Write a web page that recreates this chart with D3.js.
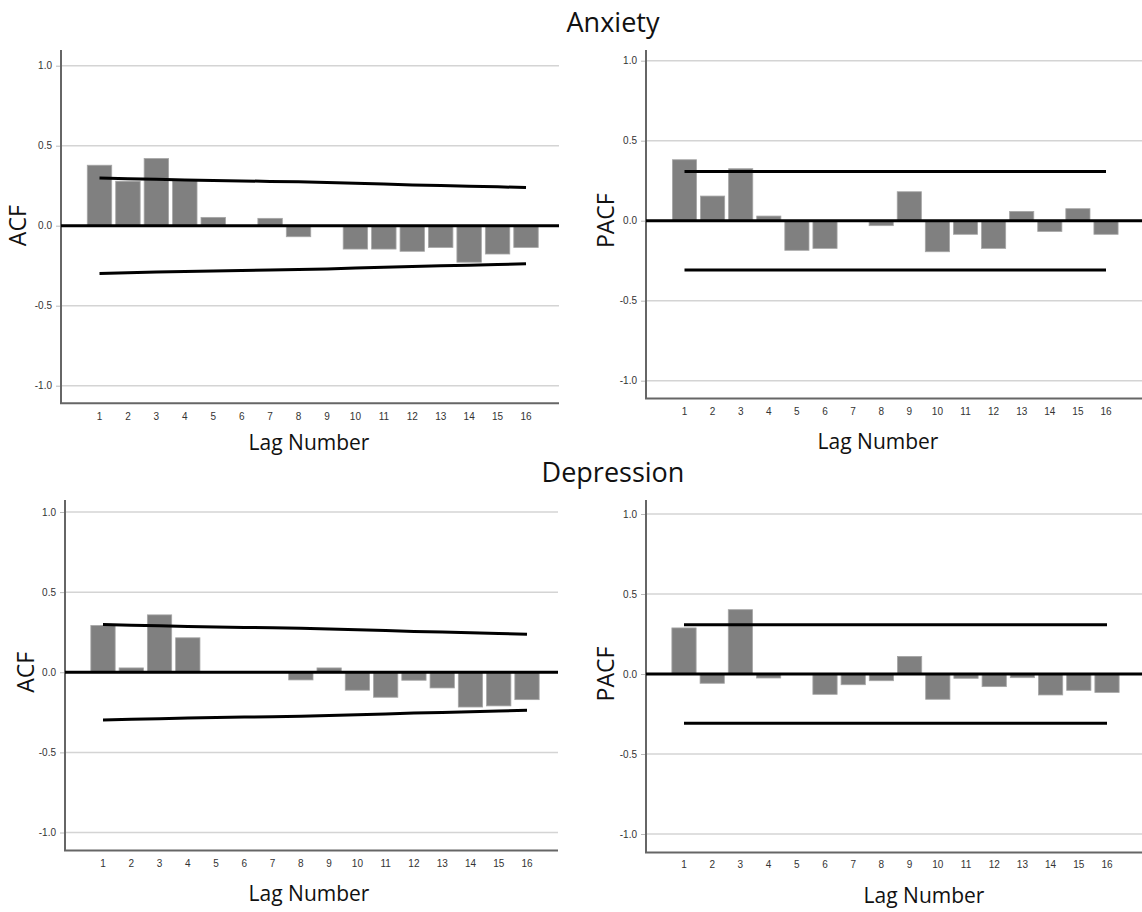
<!DOCTYPE html>
<html>
<head>
<meta charset="utf-8">
<script src="https://cdn.jsdelivr.net/npm/d3@7"></script>
<style>
    body { margin: 0; background: #fff; }
    svg { display: block; }
    .tick-label { font-family: 'Liberation Sans', Arial, sans-serif; font-size: 10px; fill: #333; }
    .axis-title { font-family: 'Open Sans', 'Noto Sans', sans-serif; fill: #111; }
</style>
</head>
<body>
<svg id="chart" width="1142" height="912"></svg>
<script>
// Lags shown on every panel
const lags = d3.range(1, 17);
const lagLabels = lags.map(String);
const yTickValues = [1.0, 0.5, 0.0, -0.5, -1.0];
const yTickLabels = ['1.0', '0.5', '0.0', '-0.5', '-1.0'];

// Anxiety
const anxietyAcf = [0.378, 0.278, 0.420, 0.280, 0.052, 0.0, 0.046, -0.069, 0.0, -0.146, -0.146, -0.160, -0.136, -0.228, -0.177, -0.136];
const anxietyAcfLimit = [0.298, 0.294, 0.290, 0.286, 0.283, 0.280, 0.277, 0.274, 0.270, 0.265, 0.260, 0.255, 0.251, 0.247, 0.243, 0.238];
const anxietyPacf = [0.381, 0.154, 0.325, 0.029, -0.185, -0.173, 0.0, -0.031, 0.181, -0.194, -0.085, -0.173, 0.058, -0.067, 0.075, -0.085];
const anxietyPacfLimit = [0.308, 0.308, 0.308, 0.308, 0.308, 0.308, 0.308, 0.308, 0.308, 0.308, 0.308, 0.308, 0.308, 0.308, 0.308, 0.308];

// Depression
const depressionAcf = [0.292, 0.027, 0.358, 0.215, 0.0, 0.003, 0.0, -0.048, 0.027, -0.112, -0.156, -0.050, -0.098, -0.217, -0.210, -0.171];
const depressionAcfLimit = [0.298, 0.294, 0.290, 0.286, 0.283, 0.280, 0.277, 0.274, 0.270, 0.265, 0.260, 0.255, 0.251, 0.247, 0.242, 0.237];
const depressionPacf = [0.288, -0.058, 0.402, -0.025, 0.0, -0.127, -0.067, -0.042, 0.110, -0.158, -0.027, -0.079, -0.023, -0.131, -0.102, -0.115];
const depressionPacfLimit = [0.308, 0.308, 0.308, 0.308, 0.308, 0.308, 0.308, 0.308, 0.308, 0.308, 0.308, 0.308, 0.308, 0.308, 0.308, 0.308];

const svg = d3.select('#chart');

// group titles
svg.append('text').attr('class', 'axis-title')
    .attr('x', 613).attr('y', 32).attr('text-anchor', 'middle')
    .style('font-size', '27px').text('Anxiety');
svg.append('text').attr('class', 'axis-title')
    .attr('x', 613).attr('y', 482).attr('text-anchor', 'middle')
    .style('font-size', '27px').text('Depression');

// panel frames (pixel layout of each plot)
const panels = [
    { values: anxietyAcf, limit: anxietyAcfLimit, yTitle: 'ACF',
      axisX: 61, right: 559, top: 50, yPos: 65.7, yNeg: 385.7, bottom: 403.3,
      lag1: 99.5, lag16: 526, tickY: 416, yTitleX: 18, xTitleX: 309, xTitleY: 443 },
    { values: anxietyPacf, limit: anxietyPacfLimit, yTitle: 'PACF',
      axisX: 646, right: 1142, top: 50, yPos: 60.7, yNeg: 380.7, bottom: 398.5,
      lag1: 684.5, lag16: 1106, tickY: 411, yTitleX: 606, xTitleX: 878, xTitleY: 442 },
    { values: depressionAcf, limit: depressionAcfLimit, yTitle: 'ACF',
      axisX: 65, right: 558, top: 500, yPos: 512, yNeg: 832.5, bottom: 850.5,
      lag1: 103, lag16: 527, tickY: 863, yTitleX: 26, xTitleX: 309, xTitleY: 894 },
    { values: depressionPacf, limit: depressionPacfLimit, yTitle: 'PACF',
      axisX: 646, right: 1142, top: 500, yPos: 514, yNeg: 834, bottom: 852.5,
      lag1: 684, lag16: 1107, tickY: 864, yTitleX: 606, xTitleX: 924, xTitleY: 896 }
];

panels.forEach(drawPanel);

function drawPanel(p) {
    const g = svg.append('g');
    const step = (p.lag16 - p.lag1) / 15;

    const x = d3.scaleBand()
        .domain(lags)
        .range([p.lag1 - step / 2, p.lag16 + step / 2])
        .paddingInner(0.14)
        .paddingOuter(0.07);
    const y = d3.scaleLinear().domain([-1, 1]).range([p.yNeg, p.yPos]);

    // gridlines
    g.selectAll('.grid')
        .data(yTickValues)
        .join('line')
        .attr('x1', p.axisX).attr('x2', p.right)
        .attr('y1', function (d) { return y(d); })
        .attr('y2', function (d) { return y(d); })
        .attr('stroke', '#d4d4d4')
        .attr('stroke-width', 1.5);

    // y axis ticks + labels
    const yAxis = d3.axisLeft(y)
        .tickValues(yTickValues)
        .tickSize(5)
        .tickPadding(4)
        .tickFormat(function (d, i) { return yTickLabels[i]; });
    const ya = g.append('g')
        .attr('transform', 'translate(' + p.axisX + ',0)')
        .call(yAxis);
    ya.select('.domain').remove();
    ya.selectAll('.tick line').attr('stroke', '#bbb');
    ya.selectAll('.tick text').attr('class', 'tick-label').attr('fill', null);

    // bars
    g.selectAll('.bar')
        .data(p.values.map(function (v, i) { return { lag: lags[i], v: v }; }))
        .join('rect')
        .attr('x', function (d) { return x(d.lag); })
        .attr('width', x.bandwidth())
        .attr('y', function (d) { return y(Math.max(0, d.v)); })
        .attr('height', function (d) { return Math.abs(y(d.v) - y(0)); })
        .attr('fill', '#808080')
        .attr('stroke', '#a6a6a6')
        .attr('stroke-width', 0.8);

    // x labels (no tick marks)
    const xAxis = d3.axisBottom(x)
        .tickSize(0)
        .tickPadding(0)
        .tickFormat(function (d, i) { return lagLabels[i]; });
    const xa = g.append('g')
        .attr('transform', 'translate(0,' + (p.tickY + 4) + ')')
        .call(xAxis);
    xa.select('.domain').remove();
    xa.selectAll('.tick text').attr('class', 'tick-label').attr('fill', null).attr('dy', 0);

    // axes lines
    g.append('line')
        .attr('x1', p.axisX).attr('x2', p.axisX)
        .attr('y1', p.top).attr('y2', p.bottom)
        .attr('stroke', '#666').attr('stroke-width', 2);
    g.append('line')
        .attr('x1', p.axisX - 1).attr('x2', p.right)
        .attr('y1', p.bottom).attr('y2', p.bottom)
        .attr('stroke', '#666').attr('stroke-width', 2);

    // zero line
    g.append('line')
        .attr('x1', p.axisX).attr('x2', p.right)
        .attr('y1', y(0)).attr('y2', y(0))
        .attr('stroke', '#000').attr('stroke-width', 3);

    // confidence limits
    const centre = function (d) { return x(d.lag) + x.bandwidth() / 2; };
    const upper = p.limit.map(function (v, i) { return { lag: lags[i], v: v }; });
    const lower = p.limit.map(function (v, i) { return { lag: lags[i], v: -v }; });
    const line = d3.line().x(centre).y(function (d) { return y(d.v); });
    [upper, lower].forEach(function (pts) {
        g.append('path')
            .attr('d', line(pts))
            .attr('fill', 'none')
            .attr('stroke', '#000')
            .attr('stroke-width', 3);
    });

    // axis titles
    g.append('text').attr('class', 'axis-title')
        .attr('transform', 'translate(' + (p.yTitleX + 8) + ',' + y(0) + ') rotate(-90)')
        .attr('text-anchor', 'middle')
        .style('font-size', '23px')
        .text(p.yTitle);
    g.append('text').attr('class', 'axis-title')
        .attr('x', p.xTitleX).attr('y', p.xTitleY + 7)
        .attr('text-anchor', 'middle')
        .style('font-size', '21px')
        .text('Lag Number');
}
</script>
</body>
</html>
